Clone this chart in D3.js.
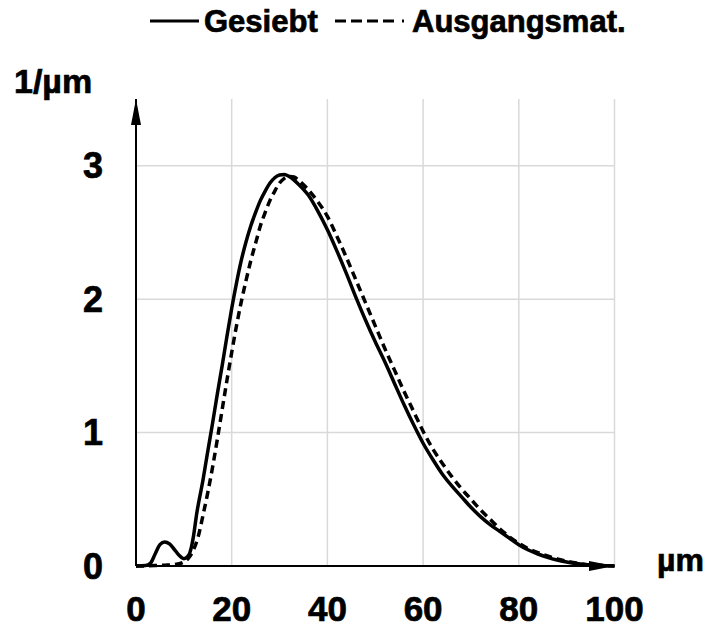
<!DOCTYPE html>
<html lang="de">
<head>
<meta charset="utf-8">
<script src="https://d3js.org/d3.v7.min.js"></script>
<style>
  body { margin: 0; background: #fff; }
  svg text { font-family: "Liberation Sans", Arial, sans-serif; font-weight: bold; fill: #000; stroke: #000; stroke-width: 0.7px; }
</style>
</head>
<body>
<script>
// particle size in µm and density in 1/µm
var xGesiebt = [0, 2, 3, 4, 5, 6, 7, 8, 9, 10, 11, 11.6, 12, 12.7, 14, 15, 16, 17, 18, 19, 20, 21, 22, 23, 24, 25, 26, 27, 28, 29, 30, 31, 32, 34, 36, 38, 40, 42, 44, 46, 48, 50, 52, 54, 56, 58, 60, 62, 64, 66, 68, 70, 72, 74, 76, 78, 80, 82, 84, 86, 88, 90, 92, 94, 97, 100];
var yGesiebt = [0, 0.003, 0.02, 0.09, 0.16, 0.18, 0.165, 0.125, 0.08, 0.055, 0.08, 0.145, 0.22, 0.395, 0.645, 0.86, 1.07, 1.29, 1.5, 1.72, 1.93, 2.12, 2.29, 2.43, 2.55, 2.65, 2.74, 2.81, 2.87, 2.91, 2.93, 2.935, 2.92, 2.86, 2.78, 2.66, 2.52, 2.36, 2.19, 2.01, 1.84, 1.68, 1.53, 1.37, 1.21, 1.06, 0.92, 0.8, 0.69, 0.6, 0.52, 0.44, 0.37, 0.31, 0.26, 0.21, 0.16, 0.12, 0.09, 0.065, 0.045, 0.03, 0.018, 0.01, 0.003, 0];

var xAusgang = [0, 4, 6, 8, 10, 11, 12, 13, 14, 15, 16, 17, 18, 19, 20, 21, 22, 23, 24, 25, 26, 27, 28, 29, 30, 31, 32, 33, 34, 36, 38, 40, 42, 44, 46, 48, 50, 52, 54, 56, 58, 60, 62, 64, 66, 68, 70, 72, 74, 76, 78, 80, 82, 84, 86, 88, 90, 92, 94, 97, 100];
var yAusgang = [0, 0.003, 0.006, 0.01, 0.03, 0.06, 0.12, 0.22, 0.38, 0.55, 0.74, 0.95, 1.17, 1.39, 1.6, 1.8, 1.98, 2.14, 2.29, 2.42, 2.55, 2.65, 2.74, 2.81, 2.87, 2.905, 2.92, 2.915, 2.89, 2.82, 2.73, 2.62, 2.47, 2.31, 2.14, 1.97, 1.8, 1.63, 1.47, 1.31, 1.16, 1.01, 0.88, 0.77, 0.67, 0.58, 0.5, 0.42, 0.35, 0.28, 0.22, 0.17, 0.13, 0.1, 0.075, 0.053, 0.036, 0.022, 0.012, 0.004, 0];

var xTicks = [0, 20, 40, 60, 80, 100];
var yTicks = [0, 1, 2, 3];
var seriesNames = ["Gesiebt", "Ausgangsmat."];

var width = 712, height = 629;

var x = d3.scaleLinear().domain([0, 100]).range([136, 614.5]);
var y = d3.scaleLinear().domain([0, 3.5]).range([566, 99]);

var svg = d3.select("body").append("svg")
    .attr("width", width)
    .attr("height", height);

// grid
svg.append("g").selectAll("line")
    .data(xTicks.slice(1))
    .enter().append("line")
    .attr("x1", d => x(d)).attr("x2", d => x(d))
    .attr("y1", y(0)).attr("y2", y(3.5))
    .attr("stroke", "#d9d9d9").attr("stroke-width", 1.5);

svg.append("g").selectAll("line")
    .data(yTicks.slice(1))
    .enter().append("line")
    .attr("x1", x(0)).attr("x2", x(100))
    .attr("y1", d => y(d)).attr("y2", d => y(d))
    .attr("stroke", "#d9d9d9").attr("stroke-width", 1.5);

// curves
var line = d3.line()
    .x(d => x(d[0]))
    .y(d => y(d[1]))
    .curve(d3.curveMonotoneX);

svg.append("path")
    .datum(d3.zip(xAusgang, yAusgang))
    .attr("d", line)
    .attr("fill", "none")
    .attr("stroke", "#000")
    .attr("stroke-width", 3.5)
    .attr("stroke-dasharray", "8,5");

svg.append("path")
    .datum(d3.zip(xGesiebt, yGesiebt))
    .attr("d", line)
    .attr("fill", "none")
    .attr("stroke", "#000")
    .attr("stroke-width", 3.5);

// axes with arrows
svg.append("defs").append("marker")
    .attr("id", "arrow")
    .attr("viewBox", "0 0 26 10")
    .attr("refX", 26).attr("refY", 5)
    .attr("markerUnits", "userSpaceOnUse")
    .attr("markerWidth", 26).attr("markerHeight", 10)
    .attr("orient", "auto")
    .append("path")
    .attr("d", "M0,0L26,5L0,10Z")
    .attr("fill", "#000");

svg.append("line")
    .attr("x1", x(0)).attr("x2", x(100))
    .attr("y1", y(0)).attr("y2", y(0))
    .attr("stroke", "#000").attr("stroke-width", 2)
    .attr("marker-end", "url(#arrow)");

svg.append("line")
    .attr("x1", x(0)).attr("x2", x(0))
    .attr("y1", y(0)).attr("y2", y(3.5))
    .attr("stroke", "#000").attr("stroke-width", 2)
    .attr("marker-end", "url(#arrow)");

// tick labels
svg.append("g").selectAll("text")
    .data(xTicks)
    .enter().append("text")
    .attr("x", d => x(d))
    .attr("y", 621)
    .attr("text-anchor", "middle")
    .style("font-size", "35px")
    .text(d => d);

svg.append("g").selectAll("text")
    .data(yTicks)
    .enter().append("text")
    .attr("x", 103)
    .attr("y", d => y(d))
    .attr("dy", "0.35em")
    .attr("text-anchor", "end")
    .style("font-size", "36px")
    .text(d => d);

// axis titles
svg.append("text")
    .attr("x", 14).attr("y", 93)
    .style("font-size", "34px")
    .text("1/µm");

svg.append("text")
    .attr("x", 657).attr("y", 571)
    .style("font-size", "32px")
    .text("µm");

// legend
svg.append("line")
    .attr("x1", 150).attr("x2", 199)
    .attr("y1", 21).attr("y2", 21)
    .attr("stroke", "#000").attr("stroke-width", 3);
svg.append("text")
    .attr("x", 204).attr("y", 32)
    .style("font-size", "31px")
    .text(seriesNames[0]);

svg.append("line")
    .attr("x1", 335).attr("x2", 407)
    .attr("y1", 21).attr("y2", 21)
    .attr("stroke", "#000").attr("stroke-width", 3)
    .attr("stroke-dasharray", "11,5,11,5,11,5,11,8,2,20");
svg.append("text")
    .attr("x", 412).attr("y", 32)
    .style("font-size", "31px")
    .text(seriesNames[1]);
</script>
</body>
</html>
